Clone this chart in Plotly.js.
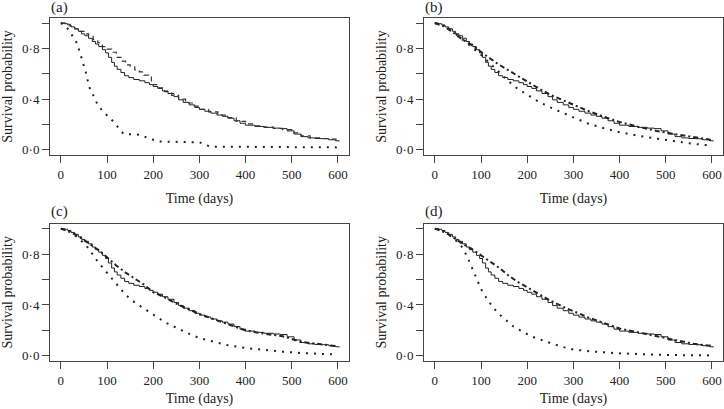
<!DOCTYPE html>
<html>
<head>
<meta charset="utf-8">
<script src="https://cdn.plot.ly/plotly-3.0.1.min.js"></script>
<style>html,body{margin:0;padding:0;background:#fff;}#chart{width:724px;height:409px;}</style>
</head>
<body>
<div id="chart"></div>
<script>
// Kaplan-Meier estimate (solid, same in every panel)
const kmTime = [0, 8, 15, 22, 30, 38, 45, 52, 60, 68, 75, 82, 90, 97, 103, 110, 116, 122, 130, 138, 147, 158, 170, 182, 192, 200, 210, 220, 232, 245, 255, 265, 278, 290, 300, 312, 325, 338, 350, 362, 375, 388, 400, 420, 440, 460, 475, 490, 505, 520, 535, 550, 565, 580, 595, 603];
const kmSurv = [1.0, 0.995, 0.985, 0.97, 0.955, 0.935, 0.915, 0.9, 0.88, 0.855, 0.835, 0.815, 0.79, 0.765, 0.73, 0.69, 0.66, 0.635, 0.61, 0.585, 0.57, 0.555, 0.545, 0.53, 0.515, 0.5, 0.485, 0.465, 0.445, 0.42, 0.395, 0.375, 0.355, 0.335, 0.32, 0.305, 0.29, 0.275, 0.265, 0.25, 0.23, 0.21, 0.195, 0.185, 0.178, 0.172, 0.168, 0.15, 0.125, 0.105, 0.095, 0.09, 0.088, 0.08, 0.072, 0.068];

// Panel (a)
const aDashTime = [0, 10, 20, 30, 40, 50, 60, 70, 80, 90, 100, 110, 120, 130, 140, 150, 160, 170, 180, 190, 196, 210, 225, 240, 255, 270, 285, 300, 320, 340, 360, 380, 400, 420, 440, 460, 480, 500, 520, 540, 560, 580, 600];
const aDashSurv = [1.0, 0.99, 0.975, 0.955, 0.935, 0.915, 0.895, 0.87, 0.845, 0.815, 0.795, 0.77, 0.73, 0.7, 0.67, 0.655, 0.63, 0.615, 0.59, 0.575, 0.515, 0.49, 0.46, 0.43, 0.4, 0.37, 0.345, 0.32, 0.3, 0.275, 0.255, 0.225, 0.205, 0.19, 0.18, 0.17, 0.16, 0.135, 0.11, 0.095, 0.09, 0.085, 0.075];
const aDotTime = [0, 10, 20, 26, 35, 42, 47, 51, 55, 58, 61, 67, 71, 78, 85, 92, 103, 112, 121, 128, 136, 172, 186, 211, 300, 323, 600];
const aDotSurv = [1.0, 0.98, 0.93, 0.89, 0.84, 0.76, 0.7, 0.66, 0.6, 0.55, 0.5, 0.455, 0.42, 0.37, 0.33, 0.3, 0.26, 0.23, 0.19, 0.16, 0.125, 0.12, 0.097, 0.066, 0.06, 0.026, 0.02];

// Panels (b)-(d) share one time grid for the dash-dot curves
const gridTime = [0, 20, 40, 60, 80, 100, 120, 140, 160, 180, 200, 225, 250, 275, 300, 330, 365, 400, 440, 480, 520, 560, 600];
const bDashSurv = [1.0, 0.975, 0.925, 0.87, 0.825, 0.77, 0.72, 0.67, 0.625, 0.58, 0.54, 0.485, 0.435, 0.395, 0.355, 0.31, 0.263, 0.22, 0.183, 0.15, 0.125, 0.1, 0.078];
const bDotTime = [0, 20, 40, 60, 80, 100, 120, 140, 160, 180, 200, 225, 250, 275, 300, 330, 365, 400, 440, 480, 520, 560, 600];
const bDotSurv = [1.0, 0.975, 0.93, 0.87, 0.81, 0.75, 0.68, 0.61, 0.54, 0.48, 0.435, 0.38, 0.335, 0.295, 0.255, 0.21, 0.172, 0.14, 0.112, 0.088, 0.068, 0.048, 0.034];

const cDashSurv = [1.0, 0.975, 0.935, 0.885, 0.835, 0.775, 0.71, 0.655, 0.61, 0.56, 0.5, 0.46, 0.41, 0.37, 0.33, 0.29, 0.245, 0.2, 0.175, 0.155, 0.11, 0.09, 0.075];
const cDotTime = [0, 20, 40, 60, 80, 100, 120, 140, 160, 180, 200, 225, 250, 275, 300, 330, 360, 400, 440, 480, 520, 560, 600];
const cDotSurv = [1.0, 0.975, 0.92, 0.845, 0.74, 0.655, 0.57, 0.48, 0.42, 0.37, 0.325, 0.265, 0.22, 0.178, 0.14, 0.11, 0.085, 0.062, 0.045, 0.033, 0.023, 0.015, 0.01];

const dDashSurv = [1.0, 0.975, 0.93, 0.88, 0.84, 0.79, 0.735, 0.69, 0.63, 0.58, 0.54, 0.487, 0.435, 0.39, 0.35, 0.305, 0.26, 0.215, 0.185, 0.155, 0.12, 0.095, 0.078];
const dDotTime = [0, 20, 40, 60, 70, 80, 90, 100, 110, 125, 140, 155, 170, 190, 210, 235, 255, 275, 300, 340, 400, 450, 500, 550, 600];
const dDotSurv = [1.0, 0.975, 0.93, 0.85, 0.78, 0.69, 0.6, 0.525, 0.465, 0.385, 0.325, 0.275, 0.232, 0.19, 0.152, 0.12, 0.097, 0.072, 0.05, 0.035, 0.02, 0.012, 0.008, 0.005, 0.004];

const panelLabels = ['(a)', '(b)', '(c)', '(d)'];
const xTickVals = [0, 100, 200, 300, 400, 500, 600];
const yTickVals = [0, 0.2, 0.4, 0.6, 0.8, 1.0];
const yTickText = ['0·0', '', '0·4', '', '0·8', ''];
const xTitle = 'Time (days)';
const yTitle = 'Survival probability';

const INK = '#222';
const FONT = 'Liberation Serif, Times New Roman, serif';

function solid(xa, ya) {
  return {x: kmTime, y: kmSurv, xaxis: xa, yaxis: ya, mode: 'lines',
    line: {color: INK, width: 1, shape: 'hv'}, showlegend: false, hoverinfo: 'skip'};
}
function dotted(t, s, xa, ya) {
  return {x: t, y: s, xaxis: xa, yaxis: ya, mode: 'lines',
    line: {color: INK, width: 2, dash: '2px,6px'}, showlegend: false, hoverinfo: 'skip'};
}
function dashdot(t, s, xa, ya) {
  return {x: t, y: s, xaxis: xa, yaxis: ya, mode: 'lines',
    line: {color: INK, width: 2, dash: '5px,3px,2px,3px'}, showlegend: false, hoverinfo: 'skip'};
}

const traces = [
  solid('x', 'y'),
  {x: aDashTime, y: aDashSurv, xaxis: 'x', yaxis: 'y', mode: 'lines',
    line: {color: '#333', width: 1.2, dash: '5px,4px', shape: 'hv'}, showlegend: false, hoverinfo: 'skip'},
  dotted(aDotTime, aDotSurv, 'x', 'y'),
  solid('x2', 'y2'), dashdot(gridTime, bDashSurv, 'x2', 'y2'), dotted(bDotTime, bDotSurv, 'x2', 'y2'),
  solid('x3', 'y3'), dashdot(gridTime, cDashSurv, 'x3', 'y3'), dotted(cDotTime, cDotSurv, 'x3', 'y3'),
  solid('x4', 'y4'), dashdot(gridTime, dDashSurv, 'x4', 'y4'), dotted(dDotTime, dDotSurv, 'x4', 'y4')
];

const W = 724, H = 409;
const colDom = [[50 / W, 349 / W], [424 / W, 723 / W]];
const rowDom = [[1 - 155 / H, 1 - 18 / H], [1 - 361 / H, 1 - 223.5 / H]];

function xax(dom, anchor, standoff) {
  return {domain: dom, anchor: anchor, range: [-23.5, 624], tickvals: xTickVals,
    ticks: 'outside', ticklen: 7, tickcolor: '#444', showline: true, mirror: true,
    linecolor: '#444', linewidth: 1, showgrid: false, zeroline: false,
    tickfont: {family: FONT, size: 13, color: INK},
    title: {text: xTitle, font: {family: FONT, size: 14, color: INK}, standoff: standoff}};
}
function yax(dom, anchor) {
  return {domain: dom, anchor: anchor, range: [-0.04, 1.04], tickvals: yTickVals, ticktext: yTickText,
    ticks: 'outside', ticklen: 7, tickcolor: '#444', showline: true, mirror: true,
    linecolor: '#444', linewidth: 1, showgrid: false, zeroline: false,
    tickfont: {family: FONT, size: 13, color: INK},
    title: {text: yTitle, font: {family: FONT, size: 14, color: INK}, standoff: 6}};
}

const annotations = panelLabels.map((lab, i) => ({
  text: lab, xref: 'paper', yref: 'paper', showarrow: false,
  x: (i % 2 === 0 ? 49 : 423) / W, xanchor: 'left',
  y: 1 - (i < 2 ? 7 : 212) / H, yanchor: 'middle',
  font: {family: FONT, size: 15, color: INK}
}));

const layout = {
  width: W, height: H, margin: {l: 0, r: 0, t: 0, b: 0},
  paper_bgcolor: '#fff', plot_bgcolor: '#fff', showlegend: false,
  xaxis: xax(colDom[0], 'y', 12), yaxis: yax(rowDom[0], 'x'),
  xaxis2: xax(colDom[1], 'y2', 12), yaxis2: yax(rowDom[0], 'x2'),
  xaxis3: xax(colDom[0], 'y3', 6), yaxis3: yax(rowDom[1], 'x3'),
  xaxis4: xax(colDom[1], 'y4', 6), yaxis4: yax(rowDom[1], 'x4'),
  annotations: annotations
};

Plotly.newPlot('chart', traces, layout, {staticPlot: true, displayModeBar: false});
</script>
</body>
</html>
